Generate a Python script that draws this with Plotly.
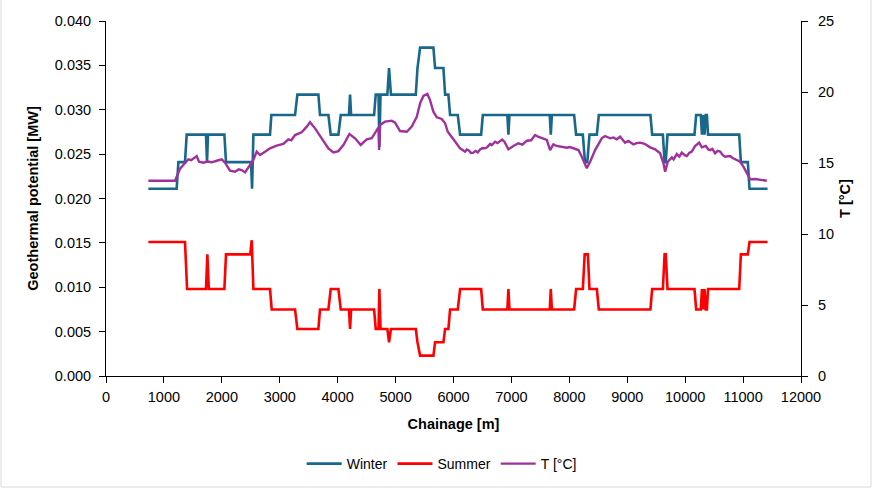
import plotly.graph_objects as go

# Chainage [m] and geothermal potential [MW] – winter operation (step profile)
winter_x = [731, 1220, 1250, 1364, 1393, 1727, 1744, 1761, 2044, 2072, 2504, 2522, 2545,
            2832, 2855, 3264, 3304, 3667, 3695, 3840, 3880, 4013, 4053, 4195, 4214, 4232,
            4629, 4657, 4705, 4720, 4740, 4858, 4887, 4920, 5349, 5378, 5423, 5653, 5682,
            5826, 5855, 5912, 5941, 6074, 6114, 6477, 6506, 6930, 6948, 6966, 7662, 7680,
            7698, 8083, 8117, 8233, 8270, 8310, 8348, 8475, 8509, 9400, 9430, 9615, 9645,
            9665, 9695, 10161, 10190, 10270, 10290, 10310, 10335, 10355, 10375, 10395,
            10933, 10962, 11082, 11111, 11422]
winter_y = [0.0211, 0.0211, 0.0241, 0.0241, 0.0272, 0.0272, 0.0241, 0.0272, 0.0272, 0.0241,
            0.0241, 0.0211, 0.0272, 0.0272, 0.0294, 0.0294, 0.0317, 0.0317, 0.0294, 0.0294,
            0.0272, 0.0272, 0.0294, 0.0294, 0.0317, 0.0294, 0.0294, 0.0317, 0.0317, 0.0258,
            0.0317, 0.0317, 0.0347, 0.0317, 0.0317, 0.0347, 0.0370, 0.0370, 0.0347, 0.0347,
            0.0317, 0.0317, 0.0294, 0.0294, 0.0272, 0.0272, 0.0294, 0.0294, 0.0272, 0.0294,
            0.0294, 0.0272, 0.0294, 0.0294, 0.0272, 0.0272, 0.0241, 0.0241, 0.0272, 0.0272,
            0.0294, 0.0294, 0.0272, 0.0272, 0.0241, 0.0241, 0.0272, 0.0272, 0.0294, 0.0294,
            0.0272, 0.0294, 0.0272, 0.0294, 0.0294, 0.0272, 0.0272, 0.0241, 0.0241, 0.0211,
            0.0211]

# Geothermal potential [MW] – summer operation (step profile)
summer_x = [731, 1364, 1400, 1727, 1750, 1775, 2044, 2072, 2490, 2516, 2545, 2832, 2861,
            3264, 3304, 3667, 3695, 3840, 3880, 4013, 4053, 4195, 4214, 4232, 4629, 4657,
            4705, 4720, 4740, 4858, 4887, 4920, 5349, 5378, 5423, 5653, 5682, 5826, 5855,
            5912, 5941, 6074, 6114, 6477, 6506, 6930, 6948, 6966, 7662, 7680, 7698, 8083,
            8117, 8233, 8265, 8320, 8348, 8475, 8509, 9400, 9430, 9615, 9645, 9665, 9695,
            10161, 10190, 10270, 10290, 10310, 10335, 10355, 10375, 10395, 10933, 10962,
            11082, 11111, 11422]
summer_y = [0.0151, 0.0151, 0.0098, 0.0098, 0.0137, 0.0098, 0.0098, 0.0137, 0.0137, 0.0153,
            0.0098, 0.0098, 0.0075, 0.0075, 0.0053, 0.0053, 0.0075, 0.0075, 0.0098, 0.0098,
            0.0075, 0.0075, 0.0053, 0.0075, 0.0075, 0.0053, 0.0053, 0.0098, 0.0053, 0.0053,
            0.0038, 0.0053, 0.0053, 0.0038, 0.0023, 0.0023, 0.0038, 0.0038, 0.0053, 0.0053,
            0.0075, 0.0075, 0.0098, 0.0098, 0.0075, 0.0075, 0.0098, 0.0075, 0.0075, 0.0098,
            0.0075, 0.0075, 0.0098, 0.0098, 0.0137, 0.0137, 0.0098, 0.0098, 0.0075, 0.0075,
            0.0098, 0.0098, 0.0137, 0.0137, 0.0098, 0.0098, 0.0075, 0.0075, 0.0098, 0.0075,
            0.0098, 0.0075, 0.0075, 0.0098, 0.0098, 0.0137, 0.0137, 0.0151, 0.0151]

# Rock temperature along the tunnel [°C]
temp_x = [731, 1192, 1221, 1278, 1335, 1422, 1470, 1508, 1566, 1606, 1681, 1750, 1825, 1912,
          1998, 2055, 2141, 2228, 2290, 2343, 2401, 2487, 2544, 2602, 2660, 2746, 2832,
          2947, 3062, 3149, 3200, 3264, 3379, 3466, 3523, 3609, 3725, 3840, 3926, 4013,
          4099, 4203, 4300, 4398, 4502, 4588, 4675, 4705, 4715, 4732, 4818, 4934, 4991,
          5077, 5193, 5279, 5366, 5423, 5480, 5549, 5595, 5653, 5711, 5797, 5855, 5901,
          5998, 6114, 6200, 6230, 6269, 6300, 6344, 6380, 6420, 6459, 6500, 6545, 6580,
          6632, 6660, 6718, 6760, 6804, 6840, 6879, 6948, 7034, 7120, 7190, 7265, 7340,
          7409, 7460, 7524, 7611, 7668, 7725, 7780, 7840, 7900, 7956, 8010, 8071, 8157,
          8215, 8272, 8301, 8359, 8445, 8560, 8618, 8704, 8760, 8819, 8877, 8963, 9020,
          9107, 9160, 9222, 9300, 9395, 9481, 9568, 9625, 9654, 9700, 9769, 9800, 9856,
          9900, 9942, 9990, 10028, 10070, 10114, 10172, 10241, 10288, 10356, 10400, 10431,
          10470, 10517, 10560, 10603, 10650, 10690, 10776, 10820, 10862, 10949, 11006,
          11064, 11122, 11208, 11294, 11410]
temp_y = [13.75, 13.75, 14.03, 14.60, 14.86, 15.26, 15.20, 15.33, 15.49, 15.09, 15.02, 15.10,
          15.05, 15.16, 15.26, 15.02, 14.46, 14.39, 14.55, 14.50, 14.34, 14.86, 15.21, 15.80,
          15.56, 15.80, 16.03, 16.22, 16.34, 16.67, 16.60, 16.97, 17.16, 17.56, 17.87, 17.44,
          16.74, 16.03, 15.75, 15.84, 16.27, 17.04, 16.74, 16.27, 16.67, 16.74, 17.32, 17.50,
          15.91, 17.68, 17.91, 17.98, 17.84, 17.25, 17.20, 17.56, 18.26, 19.20, 19.72, 19.86,
          19.43, 18.61, 18.22, 18.10, 17.80, 17.20, 16.67, 16.03, 15.80, 15.95, 15.87, 15.70,
          15.73, 15.85, 15.75, 15.96, 16.05, 16.03, 16.10, 16.34, 16.25, 16.50, 16.40, 16.57,
          16.65, 16.50, 15.96, 16.20, 16.39, 16.30, 16.57, 16.60, 16.97, 16.85, 16.74, 16.62,
          15.91, 16.31, 16.20, 16.15, 16.10, 16.08, 16.12, 16.03, 15.91, 15.44, 14.86, 14.63,
          15.09, 15.91, 16.74, 16.90, 16.74, 16.80, 16.67, 16.85, 16.43, 16.55, 16.31, 16.40,
          16.43, 16.35, 16.10, 15.96, 15.68, 14.98, 14.39, 15.09, 15.40, 15.25, 15.63, 15.45,
          15.73, 15.55, 15.49, 15.70, 15.80, 16.20, 16.43, 16.10, 16.20, 15.95, 15.91, 16.00,
          15.68, 15.85, 15.80, 15.55, 15.44, 15.49, 15.35, 15.26, 15.09, 14.74, 14.27, 13.85,
          13.87, 13.80, 13.75]

x_ticks = list(range(0, 12001, 1000))

W, H = 873, 489
ML, MR, MT, MB = 106, 72, 21, 113
FONT = "Liberation Sans, Arial, sans-serif"

fig = go.Figure()
fig.add_trace(go.Scatter(x=winter_x, y=winter_y, name="Winter", mode="lines",
                         line=dict(color="#19688B", width=2.6)))
fig.add_trace(go.Scatter(x=summer_x, y=summer_y, name="Summer", mode="lines",
                         line=dict(color="#FF0000", width=2.6)))
fig.add_trace(go.Scatter(x=temp_x, y=temp_y, name="T [°C]", mode="lines", yaxis="y2",
                         line=dict(color="#A0309E", width=2.4)))

axis_common = dict(showgrid=False, zeroline=False, showline=True, linecolor="black",
                   linewidth=1, ticks="outside", ticklen=6, tickcolor="black",
                   automargin=False,
                   tickfont=dict(family=FONT, size=14.5, color="black"))

fig.update_layout(
    width=W, height=H,
    margin=dict(l=ML, r=MR, t=MT, b=MB, autoexpand=False),
    paper_bgcolor="white", plot_bgcolor="white",
    font=dict(family=FONT, color="black"),
    xaxis=dict(range=[0, 12000], tickvals=x_ticks, tickformat="d", **axis_common,
               ticklabelstandoff=2,
               title=dict(text="<b>Chainage [m]</b>", font=dict(size=14.5), standoff=14)),
    yaxis=dict(range=[0, 0.04], dtick=0.005, tickformat=".3f", **axis_common,
               ticklabelstandoff=5,
               title=dict(text="<b>Geothermal potential [MW]</b>", font=dict(size=14.5),
                          standoff=12)),
    yaxis2=dict(range=[0, 25], dtick=5, overlaying="y", side="right", **axis_common,
                ticklabelstandoff=7,
                title=dict(text="<b>T [°C]</b>", font=dict(size=14.5), standoff=6)),
    legend=dict(orientation="h", x=0.483, xanchor="center", y=-0.203, yanchor="top",
                font=dict(family=FONT, size=14), itemwidth=35, tracegroupgap=0),
    showlegend=True,
)

# thin frame around the whole chart area
pw, ph = W - ML - MR, H - MT - MB
fig.add_shape(type="rect", xref="paper", yref="paper",
              x0=(1 - ML) / pw, x1=(W - 2 - ML) / pw,
              y0=-(H - 2 - MT - ph) / ph, y1=(H - MT - 2) / ph,
              line=dict(color="#D9D9D9", width=1), fillcolor="rgba(0,0,0,0)")

fig.write_html("out.html")
